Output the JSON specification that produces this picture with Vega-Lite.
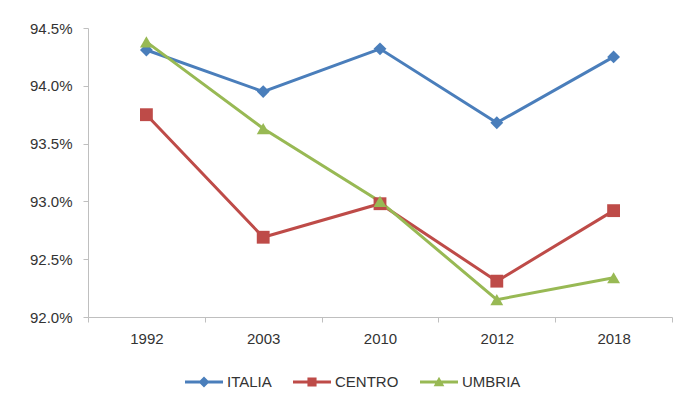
{
  "$schema": "https://vega.github.io/schema/vega-lite/v6.json",
  "autosize": "none",
  "width": 584,
  "height": 289,
  "padding": {"left": 88, "top": 28, "right": 8, "bottom": 88},
  "background": "white",
  "config": {
    "view": {"stroke": null},
    "font": "Liberation Sans",
    "axis": {"labelFont": "Liberation Sans", "labelFontSize": 15, "labelColor": "#333333", "domainColor": "#bfbfbf", "tickColor": "#bfbfbf", "grid": false, "title": null},
    "legend": {"labelFont": "Liberation Sans", "labelFontSize": 15, "labelColor": "#333333"}
  },
  "data": {
    "values": [
      {"anno": "1992", "serie": "ITALIA", "valore": 94.31},
      {"anno": "2003", "serie": "ITALIA", "valore": 93.95},
      {"anno": "2010", "serie": "ITALIA", "valore": 94.32},
      {"anno": "2012", "serie": "ITALIA", "valore": 93.68},
      {"anno": "2018", "serie": "ITALIA", "valore": 94.25},
      {"anno": "1992", "serie": "CENTRO", "valore": 93.75},
      {"anno": "2003", "serie": "CENTRO", "valore": 92.69},
      {"anno": "2010", "serie": "CENTRO", "valore": 92.98},
      {"anno": "2012", "serie": "CENTRO", "valore": 92.31},
      {"anno": "2018", "serie": "CENTRO", "valore": 92.92},
      {"anno": "1992", "serie": "UMBRIA", "valore": 94.38},
      {"anno": "2003", "serie": "UMBRIA", "valore": 93.63},
      {"anno": "2010", "serie": "UMBRIA", "valore": 93.0},
      {"anno": "2012", "serie": "UMBRIA", "valore": 92.15},
      {"anno": "2018", "serie": "UMBRIA", "valore": 92.34}
    ]
  },
  "encoding": {
    "x": {
      "field": "anno", "type": "ordinal",
      "scale": {"type": "band", "paddingInner": 0, "paddingOuter": 0},
      "axis": {"labelAngle": 0, "tickBand": "extent", "tickSize": 5, "labelPadding": 9}
    },
    "y": {
      "field": "valore", "type": "quantitative",
      "scale": {"domain": [92, 94.5], "zero": false, "nice": false},
      "axis": {"values": [92, 92.5, 93, 93.5, 94, 94.5], "labelExpr": "format(datum.value, '.1f') + '%'", "tickSize": 5, "labelPadding": 11}
    }
  },
  "layer": [
    {
      "mark": {"type": "line", "strokeWidth": 3},
      "encoding": {
        "color": {"field": "serie", "type": "nominal", "scale": {"domain": ["ITALIA", "CENTRO", "UMBRIA"], "range": ["#4A7EBB", "#BE4B48", "#98B954"]}, "legend": null}
      }
    },
    {
      "mark": {"type": "point", "filled": true, "opacity": 1, "size": 165},
      "encoding": {
        "color": {"field": "serie", "type": "nominal", "scale": {"domain": ["ITALIA", "CENTRO", "UMBRIA"], "range": ["#4A7EBB", "#BE4B48", "#98B954"]}, "legend": null},
        "shape": {"field": "serie", "type": "nominal", "scale": {"domain": ["ITALIA", "CENTRO", "UMBRIA"], "range": ["diamond", "square", "triangle-up"]}, "legend": null}
      }
    },
    {
      "mark": {"type": "point", "filled": true, "opacity": 0},
      "encoding": {
        "color": {"field": "serie", "type": "nominal", "scale": {"domain": ["ITALIA", "CENTRO", "UMBRIA"], "range": ["#4A7EBB", "#BE4B48", "#98B954"]},
          "legend": {"orient": "none", "legendX": 97, "legendY": 335, "direction": "horizontal", "title": null, "symbolSize": 1444, "symbolOpacity": 1, "symbolStrokeWidth": 0, "labelOffset": 4, "columnPadding": 21}},
        "shape": {"field": "serie", "type": "nominal", "scale": {"domain": ["ITALIA", "CENTRO", "UMBRIA"], "range": [
          "M-1,-0.08H1V0.08H-1Z M0,-0.29L0.29,0L0,0.29L-0.29,0Z",
          "M-1,-0.08H1V0.08H-1Z M-0.24,-0.24H0.24V0.24H-0.24Z",
          "M-1,-0.08H1V0.08H-1Z M0,-0.27L0.28,0.22L-0.28,0.22Z"
        ]},
          "legend": {"orient": "none", "legendX": 97, "legendY": 335, "direction": "horizontal", "title": null, "symbolSize": 1444, "symbolOpacity": 1, "symbolStrokeWidth": 0, "labelOffset": 4, "columnPadding": 21}}
      }
    }
  ],
  "resolve": {"scale": {"color": "independent", "shape": "independent"}}
}
